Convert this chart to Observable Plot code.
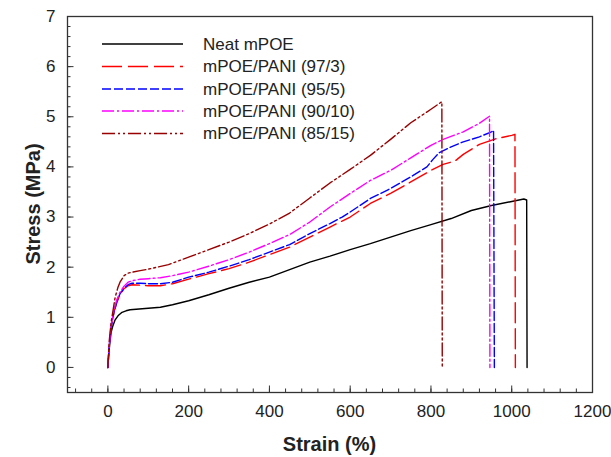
<!DOCTYPE html>
<html>
<head>
<meta charset="utf-8">
<script src="https://cdn.jsdelivr.net/npm/d3@7"></script>
<script src="https://cdn.jsdelivr.net/npm/@observablehq/plot@0.6"></script>
<style>
  html, body { margin: 0; padding: 0; background: #fff; }
  #chart { position: relative; width: 611px; height: 457px; }
  svg { font-family: "Liberation Sans", Arial, sans-serif; }
</style>
</head>
<body>
<div id="chart"></div>
<script>
// ---- data ----
const seriesNames = ["Neat mPOE", "mPOE/PANI (97/3)", "mPOE/PANI (95/5)", "mPOE/PANI (90/10)", "mPOE/PANI (85/15)"];
const seriesColors = ["#000000", "#ff0000", "#0000ff", "#ff00ff", "#990000"];
const seriesDash = [null, "20,6", "9,3", "12,3,2,3", "13,3,2,3,2,3"];

const neatStrain = [0, 2, 5, 8, 12, 18, 25, 35, 45, 55, 70, 100, 130, 160, 200, 250, 300, 350, 400, 450, 500, 550, 600, 650, 700, 750, 800, 850, 900, 950, 1000, 1030, 1037, 1038];
const neatStress = [0, 0.25, 0.5, 0.7, 0.82, 0.95, 1.03, 1.1, 1.13, 1.15, 1.16, 1.18, 1.2, 1.25, 1.33, 1.45, 1.58, 1.7, 1.8, 1.95, 2.1, 2.22, 2.35, 2.47, 2.6, 2.73, 2.85, 2.97, 3.13, 3.23, 3.31, 3.36, 3.34, 0];

const p97Strain = [0, 3, 8, 15, 22, 30, 40, 50, 60, 80, 100, 130, 160, 200, 250, 300, 350, 400, 450, 500, 550, 600, 650, 700, 750, 800, 830, 860, 880, 920, 960, 1000, 1008, 1009];
const p97Stress = [0, 0.4, 0.8, 1.1, 1.3, 1.45, 1.57, 1.63, 1.65, 1.64, 1.63, 1.63, 1.67, 1.76, 1.87, 1.97, 2.1, 2.25, 2.4, 2.6, 2.8, 3.0, 3.27, 3.47, 3.7, 3.93, 4.05, 4.12, 4.25, 4.45, 4.56, 4.63, 4.65, 0];

const p95Strain = [0, 3, 8, 15, 22, 30, 40, 50, 60, 80, 100, 130, 160, 200, 250, 300, 350, 400, 450, 500, 550, 580, 600, 650, 700, 750, 790, 805, 820, 850, 880, 920, 950, 955, 957];
const p95Stress = [0, 0.4, 0.8, 1.1, 1.3, 1.47, 1.58, 1.65, 1.68, 1.68, 1.67, 1.67, 1.7, 1.8, 1.9, 2.02, 2.15, 2.3, 2.45, 2.67, 2.87, 3.0, 3.1, 3.37, 3.57, 3.8, 4.0, 4.15, 4.28, 4.4, 4.5, 4.6, 4.7, 4.73, 0];

const p90Strain = [0, 3, 8, 15, 22, 30, 40, 50, 60, 80, 100, 130, 160, 200, 250, 300, 350, 400, 450, 500, 550, 600, 650, 700, 750, 800, 830, 880, 920, 945, 946];
const p90Stress = [0, 0.4, 0.85, 1.15, 1.35, 1.5, 1.62, 1.7, 1.73, 1.76, 1.77, 1.79, 1.83, 1.9, 2.02, 2.15, 2.3, 2.47, 2.65, 2.9, 3.2, 3.47, 3.73, 3.93, 4.18, 4.43, 4.55, 4.7, 4.87, 5.01, 0];

const p85Strain = [0, 3, 8, 12, 18, 25, 30, 40, 50, 60, 80, 100, 150, 200, 250, 300, 350, 400, 450, 500, 550, 600, 650, 700, 750, 800, 827, 828];
const p85Stress = [0, 0.5, 0.9, 1.1, 1.4, 1.6, 1.7, 1.83, 1.88, 1.9, 1.93, 1.96, 2.05, 2.2, 2.35, 2.5, 2.67, 2.86, 3.08, 3.38, 3.68, 3.95, 4.23, 4.55, 4.88, 5.15, 5.3, 0];

const xTickLabels = [0, 200, 400, 600, 800, 1000, 1200];
const yTickLabels = [0, 1, 2, 3, 4, 5, 6, 7];

// ---- build table ----
const strains = [neatStrain, p97Strain, p95Strain, p90Strain, p85Strain];
const stresses = [neatStress, p97Stress, p95Stress, p90Stress, p85Stress];
const series = seriesNames.map((name, i) =>
  strains[i].map((x, j) => ({x, y: stresses[i][j], name}))
);

const xDomain = [-100, 1200];
const yDomain = [-0.5, 7];
const xMinor = d3.range(-80, 1201, 40);
const yMinor = d3.range(-0.4, 7.001, 0.2).map(v => Math.round(v * 10) / 10);

const W = 611, H = 457;
const mL = 67, mR = 19, mT = 16, mB = 65;
const pxPerX = (W - mL - mR) / (xDomain[1] - xDomain[0]);
const pxPerY = (H - mT - mB) / (yDomain[1] - yDomain[0]);

const marks = [];
// minor & major ticks (inward)
marks.push(Plot.ruleX(xMinor, {y1: yDomain[0], y2: yDomain[0] + 3.5 / pxPerY, stroke: "#333", strokeWidth: 1}));
marks.push(Plot.ruleX(xTickLabels, {y1: yDomain[0], y2: yDomain[0] + 6.5 / pxPerY, stroke: "#333", strokeWidth: 1}));
marks.push(Plot.ruleY(yMinor, {x1: xDomain[0], x2: xDomain[0] + 3.5 / pxPerX, stroke: "#333", strokeWidth: 1}));
marks.push(Plot.ruleY(yTickLabels, {x1: xDomain[0], x2: xDomain[0] + 6.5 / pxPerX, stroke: "#333", strokeWidth: 1}));
// axes (labels only)
marks.push(Plot.axisX(xTickLabels, {tickSize: 0, tickPadding: 12, label: null, tickFormat: d => String(d), fill: "#222"}));
marks.push(Plot.axisY(yTickLabels, {tickSize: 0, tickPadding: 12, label: null, tickFormat: d => String(d), fill: "#222"}));
// curves
series.forEach((d, i) => {
  marks.push(Plot.line(d, {x: "x", y: "y", stroke: seriesColors[i], strokeWidth: 1.4,
    strokeDasharray: seriesDash[i] || undefined, curve: "linear"}));
});
marks.push(Plot.frame({stroke: "#333", strokeWidth: 1.3}));

const plot = Plot.plot({
  width: W, height: H,
  marginLeft: mL, marginRight: mR, marginTop: mT, marginBottom: mB,
  x: {domain: xDomain},
  y: {domain: yDomain},
  style: {fontFamily: "'Liberation Sans', Arial, sans-serif", fontSize: "17px", background: "#fff", overflow: "visible"},
  marks
});
document.getElementById("chart").appendChild(plot);

const svg = d3.select(plot);
// axis titles
svg.append("text")
  .attr("x", mL + (W - mL - mR) / 2).attr("y", 451)
  .attr("text-anchor", "middle")
  .attr("font-size", 20).attr("font-weight", "bold").attr("fill", "#222")
  .text("Strain (%)");
svg.append("text")
  .attr("transform", `translate(40, ${mT + (H - mT - mB) / 2}) rotate(-90)`)
  .attr("text-anchor", "middle")
  .attr("font-size", 20).attr("font-weight", "bold").attr("fill", "#222")
  .text("Stress (MPa)");

// legend
const legendRows = [44, 66.5, 89, 111, 133.5];
const lg = svg.append("g");
seriesNames.forEach((name, i) => {
  lg.append("line")
    .attr("x1", 102).attr("x2", 183)
    .attr("y1", legendRows[i]).attr("y2", legendRows[i])
    .attr("stroke", seriesColors[i]).attr("stroke-width", 1.4)
    .attr("stroke-dasharray", seriesDash[i] || null);
  lg.append("text")
    .attr("x", 203).attr("y", legendRows[i]).attr("dy", "0.35em")
    .attr("text-anchor", "start")
    .attr("font-size", 17).attr("fill", "#222")
    .text(name);
});
</script>
</body>
</html>
